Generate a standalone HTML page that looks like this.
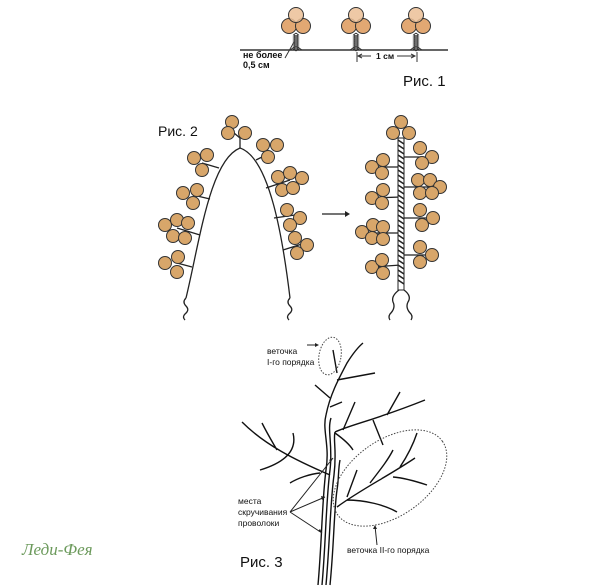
<!DOCTYPE html>
<html><head><meta charset="utf-8"><style>
html,body{margin:0;padding:0;background:#fff;width:600px;height:587px;overflow:hidden}
svg{display:block}
text{font-family:"Liberation Sans",sans-serif;fill:#111}
</style></head><body>
<svg width="600" height="587" viewBox="0 0 600 587" xmlns="http://www.w3.org/2000/svg">
<defs>
<g id="f1">
  <path d="M0,33 l-2.5,2 l5,2 l-5,2 l5,2 l-5,2 l5,2 l-5,2 l5,2 l-3,2 M0,33 l2.5,2 l-5,2 l5,2 l-5,2 l5,2 l-5,2 l5,2 l-5,2 l3,2" fill="none" stroke="#222" stroke-width="0.9"/>
  <circle cx="-7" cy="26" r="7.5" fill="#e2a873" stroke="#333" stroke-width="1"/>
  <circle cx="7" cy="26" r="7.5" fill="#e2a873" stroke="#333" stroke-width="1"/>
  <circle cx="0" cy="15" r="7.5" fill="#ebbf97" fill-opacity="0.85" stroke="#333" stroke-width="1"/>
  <path d="M-6,50 q3,-2 6,-4 q3,2 6,4" fill="none" stroke="#333"/>
</g>
</defs>
<!-- Fig 1 -->
<line x1="240" y1="50" x2="448" y2="50" stroke="#333" stroke-width="1.5"/>
<use href="#f1" x="296" y="0"/>
<use href="#f1" x="356" y="0"/>
<use href="#f1" x="416" y="0"/>
<line x1="285" y1="58" x2="294" y2="42" stroke="#333"/>
<text x="243" y="58" font-size="9" font-weight="bold">не более</text>
<text x="243" y="68" font-size="9" font-weight="bold">0,5 см</text>
<text x="376" y="59" font-size="8.5" font-weight="bold">1 см</text>
<line x1="357" y1="52" x2="357" y2="62" stroke="#333"/>
<line x1="417" y1="52" x2="417" y2="62" stroke="#333"/>
<path d="M358,56 h13 M362,54 l-4,2 l4,2 M397,56 h18 M411,54 l4,2 l-4,2" fill="none" stroke="#333"/>
<text x="403" y="86" font-size="15">Рис. 1</text>

<!-- Fig 2 -->
<text x="158" y="136" font-size="14">Рис. 2</text>
<g fill="none" stroke="#222" stroke-width="1.3">
<path d="M186,298 C200,240 210,160 240,148 C270,158 283,240 290,298"/>
<path d="M186,298 q-4,4 0,8 q4,4 -1,8 q-3,3 0,6 M290,298 q-4,4 0,8 q4,4 -1,8 q-3,3 0,6"/>
<line x1="240" y1="148" x2="240" y2="136"/><line x1="240" y1="138" x2="234" y2="133"/><line x1="240" y1="138" x2="245" y2="133"/>
<line x1="202" y1="163" x2="219" y2="168"/>
<line x1="193" y1="195" x2="210" y2="199"/>
<line x1="177" y1="228" x2="200" y2="235"/>
<line x1="177" y1="263" x2="192" y2="267"/>
<line x1="256" y1="160" x2="272" y2="152"/>
<line x1="266" y1="188" x2="290" y2="180"/>
<line x1="274" y1="218" x2="295" y2="215"/>
<line x1="283" y1="250" x2="302" y2="244"/>
<line x1="372" y1="167" x2="401" y2="167"/>
<line x1="372" y1="198" x2="401" y2="197"/>
<line x1="362" y1="233" x2="401" y2="233"/>
<line x1="372" y1="267" x2="401" y2="265"/>
<line x1="401" y1="157" x2="430" y2="157"/>
<line x1="401" y1="187" x2="440" y2="187"/>
<line x1="401" y1="218" x2="433" y2="218"/>
<line x1="401" y1="255" x2="432" y2="255"/>
<path d="M399,290 q-8,6 -6,12 q3,6 -3,12 q-2,3 0,6 M404,290 q8,6 4,12 q-3,6 3,12 q2,3 0,6"/>
<line x1="322" y1="214" x2="348" y2="214"/>
</g>
<path d="M350,214 l-5,-3 v6 z" fill="#222"/>
<rect x="398" y="138" width="6" height="152" fill="#fff" stroke="#222"/>
<path d="M398,140 l6,4 M398,145 l6,4 M398,150 l6,4 M398,155 l6,4 M398,160 l6,4 M398,165 l6,4 M398,170 l6,4 M398,175 l6,4 M398,180 l6,4 M398,185 l6,4 M398,190 l6,4 M398,195 l6,4 M398,200 l6,4 M398,205 l6,4 M398,210 l6,4 M398,215 l6,4 M398,220 l6,4 M398,225 l6,4 M398,230 l6,4 M398,235 l6,4 M398,240 l6,4 M398,245 l6,4 M398,250 l6,4 M398,255 l6,4 M398,260 l6,4 M398,265 l6,4 M398,270 l6,4 M398,275 l6,4 M398,280 l6,4" stroke="#222" stroke-width="1.5"/>
<g fill="#d8a66a" stroke="#333" stroke-width="1">
<circle cx="232" cy="122" r="6.5"/><circle cx="228" cy="133" r="6.5"/><circle cx="245" cy="133" r="6.5"/>
<circle cx="194" cy="158" r="6.5"/><circle cx="207" cy="155" r="6.5"/><circle cx="202" cy="170" r="6.5"/>
<circle cx="183" cy="193" r="6.5"/><circle cx="197" cy="190" r="6.5"/><circle cx="193" cy="203" r="6.5"/>
<circle cx="165" cy="225" r="6.5"/><circle cx="177" cy="220" r="6.5"/><circle cx="188" cy="223" r="6.5"/><circle cx="173" cy="236" r="6.5"/><circle cx="185" cy="238" r="6.5"/>
<circle cx="165" cy="263" r="6.5"/><circle cx="178" cy="257" r="6.5"/><circle cx="177" cy="272" r="6.5"/>
<circle cx="263" cy="145" r="6.5"/><circle cx="277" cy="145" r="6.5"/><circle cx="268" cy="157" r="6.5"/>
<circle cx="278" cy="177" r="6.5"/><circle cx="290" cy="173" r="6.5"/><circle cx="302" cy="178" r="6.5"/><circle cx="282" cy="190" r="6.5"/><circle cx="293" cy="188" r="6.5"/>
<circle cx="287" cy="210" r="6.5"/><circle cx="300" cy="218" r="6.5"/><circle cx="290" cy="225" r="6.5"/>
<circle cx="295" cy="238" r="6.5"/><circle cx="307" cy="245" r="6.5"/><circle cx="297" cy="253" r="6.5"/>
<circle cx="401" cy="122" r="6.5"/><circle cx="393" cy="133" r="6.5"/><circle cx="409" cy="133" r="6.5"/>
<circle cx="372" cy="167" r="6.5"/><circle cx="383" cy="160" r="6.5"/><circle cx="382" cy="173" r="6.5"/>
<circle cx="372" cy="198" r="6.5"/><circle cx="383" cy="190" r="6.5"/><circle cx="382" cy="203" r="6.5"/>
<circle cx="362" cy="232" r="6.5"/><circle cx="373" cy="225" r="6.5"/><circle cx="383" cy="227" r="6.5"/><circle cx="372" cy="238" r="6.5"/><circle cx="383" cy="239" r="6.5"/>
<circle cx="372" cy="267" r="6.5"/><circle cx="382" cy="260" r="6.5"/><circle cx="383" cy="273" r="6.5"/>
<circle cx="420" cy="148" r="6.5"/><circle cx="432" cy="157" r="6.5"/><circle cx="422" cy="163" r="6.5"/>
<circle cx="418" cy="180" r="6.5"/><circle cx="430" cy="180" r="6.5"/><circle cx="440" cy="187" r="6.5"/><circle cx="420" cy="193" r="6.5"/><circle cx="432" cy="193" r="6.5"/>
<circle cx="420" cy="210" r="6.5"/><circle cx="433" cy="218" r="6.5"/><circle cx="422" cy="225" r="6.5"/>
<circle cx="420" cy="247" r="6.5"/><circle cx="432" cy="255" r="6.5"/><circle cx="420" cy="262" r="6.5"/>
</g>

<!-- Fig 3 -->
<g fill="none" stroke="#111" stroke-width="1.4">
<path d="M318,585 C322,540 322,500 326,470 C330,445 322,430 326,415 C330,395 338,380 347,363 C352,355 357,348 363,343"/>
<path d="M322,585 C326,540 326,500 330,470 C333,445 327,430 331,418"/>
<path d="M326,585 C330,540 330,505 334,475 C337,450 333,440 335,432"/>
<path d="M330,585 C334,545 334,510 337,490 C339,478 338,470 340,460"/>
<path d="M337,380 L375,373 M333,350 L337,373 M315,385 L330,398 M330,407 L342,402"/>
<path d="M335,432 C350,425 375,420 425,400 M343,430 L355,402 M387,415 L400,392 M373,420 L383,445 M335,433 C342,438 350,445 353,450"/>
<path d="M242,422 C265,445 295,460 330,475 M262,423 C268,435 273,443 277,450 M293,433 C296,445 293,460 260,470 M290,483 C298,478 310,474 320,473"/>
<path d="M337,507 C360,490 390,475 415,458 M347,497 L357,470 M370,483 C380,470 388,460 393,450 M393,477 C405,478 418,482 427,485 M400,467 C408,455 413,445 417,433 M347,500 C365,500 385,505 397,512"/>
</g>
<g fill="none" stroke="#444" stroke-width="1" stroke-dasharray="1.5,1.5">
<ellipse cx="390" cy="478" rx="64" ry="38" transform="rotate(-35 390 478)"/>
<ellipse cx="330" cy="356" rx="11" ry="19" transform="rotate(10 330 356)"/>
</g>
<g stroke="#222" fill="none" stroke-width="1">
<path d="M307,345 h11 M290,512 L333,458 M290,512 L325,497 M290,512 L322,533 M377,545 L375,526"/>
</g>
<path d="M319,345 l-4,-2 v4 z M333,458 l-4,2 l2,2 z M325,497 l-4,-1 l1,4 z M322,533 l-2,-4 l-2,2 z M375,525 l-2,4 h4 z" fill="#222"/>
<text x="267" y="354" font-size="8.5">веточка</text>
<text x="267" y="365" font-size="8.5">I-го порядка</text>
<text x="238" y="504" font-size="8.5">места</text>
<text x="238" y="515" font-size="8.5">скручивания</text>
<text x="238" y="526" font-size="8.5">проволоки</text>
<text x="347" y="553" font-size="8.5">веточка II-го порядка</text>
<text x="240" y="567" font-size="15">Рис. 3</text>
<text x="22" y="555" font-size="17" font-style="italic" style="font-family:'Liberation Serif',serif;fill:#6c9a5c">Леди-Фея</text>
</svg>
</body></html>
